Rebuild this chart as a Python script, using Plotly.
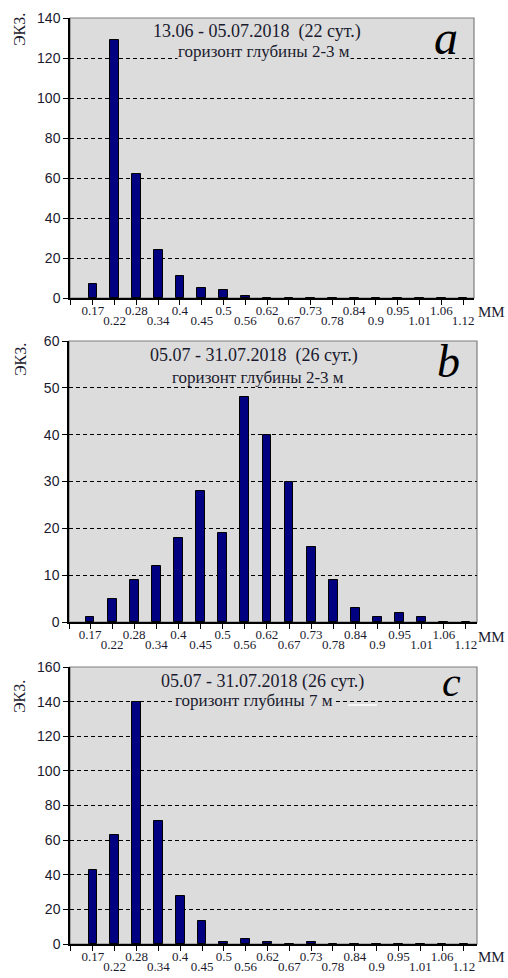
import plotly.graph_objects as go

# ---- data ----
sizes = ["0.17", "0.22", "0.28", "0.34", "0.4", "0.45", "0.5", "0.56", "0.62",
         "0.67", "0.73", "0.78", "0.84", "0.9", "0.95", "1.01", "1.06", "1.12"]
counts_a = [7, 129, 62, 24, 11, 5, 4, 1, 0, 0, 0, 0, 0, 0, 0, 0, 0, 0]
counts_b = [1, 5, 9, 12, 18, 28, 19, 48, 40, 30, 16, 9, 3, 1, 2, 1, 0, 0]
counts_c = [43, 63, 140, 71, 28, 13, 1, 3, 1, 0, 1, 0, 0, 0, 0, 0, 0, 0]
titles = ["13.06 - 05.07.2018  (22 сут.)",
          "05.07 - 31.07.2018  (26 сут.)",
          "05.07 - 31.07.2018 (26 сут.)"]
subtitles = ["горизонт глубины 2-3 м", "горизонт глубины 2-3 м", "горизонт глубины 7 м"]
letters = ["a", "b", "c"]
y_max = [140, 60, 160]
y_step = [20, 10, 20]
y_title = "ЭКЗ."
x_unit = "ММ"

W, H = 508, 978
SERIF = "Liberation Serif"
SANS = "Liberation Sans"
TXT = "#1a1a2e"

def px(x):
    return x / W

def py(y):
    return 1 - y / H

panels = [
    dict(x0=70, x1=474, yt=18, yb=298, xr=[-1.05, 17.5],
         title=(257, 32), sub=(264, 52), letter=(446, 38), ytl=(19, 30), unit=(507, 312),
         subbg="#DCDCDC", lsize=48),
    dict(x0=69, x1=477, yt=341, yb=622, xr=[-0.95, 17.5],
         title=(254, 355), sub=(258, 377), letter=(448, 362), ytl=(20, 360), unit=(507, 637),
         subbg="rgba(0,0,0,0)", lsize=46),
    dict(x0=70, x1=477, yt=667, yb=944, xr=[-1.05, 17.6],
         title=(262, 681), sub=(254, 700), letter=(451, 682), ytl=(19, 697), unit=(507, 957),
         subbg="#DCDCDC", lsize=42),
]
all_counts = [counts_a, counts_b, counts_c]

fig = go.Figure()
xi = list(range(len(sizes)))
annotations = []
shapes = []

for k, (p, counts) in enumerate(zip(panels, all_counts)):
    n = "" if k == 0 else str(k + 1)
    n2 = str(k + 4)
    fig.add_trace(go.Bar(
        x=xi, y=counts, width=0.4,
        marker=dict(color="#000080", line=dict(color="black", width=1)),
        xaxis="x" + n, yaxis="y" + n, showlegend=False,
    ))
    # main x axis: tick marks at every category, labels on even categories
    tickvals = [p["xr"][0]] + xi
    ticktext = [""] + [s if i % 2 == 0 else "" for i, s in enumerate(sizes)]
    fig.layout["xaxis" + n] = dict(
        domain=[px(p["x0"]), px(p["x1"])], anchor="y" + n, range=p["xr"],
        tickmode="array", tickvals=tickvals, ticktext=ticktext, tickangle=0,
        ticks="outside", ticklen=5, tickcolor="black", tickwidth=1, ticklabelstandoff=-5,
        tickfont=dict(family=SERIF, size=13, color=TXT),
        showline=True, linecolor="black", linewidth=1.5,
        showgrid=False, zeroline=False, fixedrange=True, automargin=False,
    )
    # overlay x axis: labels of odd categories on a second row
    odd_vals = [i for i in xi if i % 2 == 1]
    odd_text = [sizes[i] for i in odd_vals]
    fig.layout["xaxis" + n2] = dict(
        overlaying="x" + n, anchor="y" + n, side="bottom", range=p["xr"],
        tickmode="array", tickvals=odd_vals, ticktext=odd_text, tickangle=0,
        ticks="", ticklabelstandoff=13,
        tickfont=dict(family=SERIF, size=13, color=TXT),
        showline=False, showgrid=False, zeroline=False, fixedrange=True, automargin=False,
    )
    fig.add_trace(go.Scatter(x=[p["xr"][0]], y=[0], xaxis="x" + n2, yaxis="y" + n,
                             mode="markers", marker=dict(opacity=0), showlegend=False,
                             hoverinfo="skip"))
    fig.layout["yaxis" + n] = dict(
        domain=[py(p["yb"]), py(p["yt"])], anchor="x" + n, range=[0, y_max[k]],
        tickmode="linear", tick0=0, dtick=y_step[k],
        ticks="outside", ticklen=5, tickcolor="black", tickwidth=1,
        tickfont=dict(family=SANS, size=14, color=TXT),
        showline=True, linecolor="black", linewidth=1.5,
        showgrid=True, gridcolor="black", gridwidth=1, griddash="4px,3px",
        zeroline=False, fixedrange=True, automargin=False,
    )
    # plot area background + frame
    shapes.append(dict(type="rect", xref="x" + n + " domain", yref="y" + n + " domain",
                       x0=0, x1=1, y0=0, y1=1, fillcolor="#DCDCDC",
                       line=dict(color="#7f7f7f", width=1.2), layer="below"))
    annotations += [
        dict(text=titles[k], x=px(p["title"][0]), y=py(p["title"][1]), xref="paper", yref="paper",
             showarrow=False, xanchor="center", yanchor="middle",
             font=dict(family=SERIF, size=18, color=TXT)),
        dict(text=subtitles[k], x=px(p["sub"][0]), y=py(p["sub"][1]), xref="paper", yref="paper",
             showarrow=False, xanchor="center", yanchor="middle", bgcolor=p["subbg"],
             borderpad=0, font=dict(family=SERIF, size=17, color=TXT)),
        dict(text="<i>" + letters[k] + "</i>", x=px(p["letter"][0]), y=py(p["letter"][1]),
             xref="paper", yref="paper", showarrow=False, xanchor="center", yanchor="middle",
             font=dict(family=SERIF, size=p["lsize"], color="black")),
        dict(text=y_title, x=px(p["ytl"][0]), y=py(p["ytl"][1]), xref="paper", yref="paper",
             showarrow=False, xanchor="center", yanchor="middle", textangle=-90,
             font=dict(family=SERIF, size=16, color=TXT)),
        dict(text=x_unit, x=px(p["unit"][0]), y=py(p["unit"][1]), xref="paper", yref="paper",
             showarrow=False, xanchor="right", yanchor="middle",
             font=dict(family=SERIF, size=15, color=TXT)),
    ]

# small white stroke after the subtitle of panel c
shapes.append(dict(type="line", xref="paper", yref="paper",
                   x0=px(348), x1=px(377), y0=py(705), y1=py(705),
                   line=dict(color="white", width=1.5)))

fig.update_layout(
    width=W, height=H, margin=dict(l=0, r=0, t=0, b=0, pad=0, autoexpand=False),
    paper_bgcolor="white", plot_bgcolor="rgba(0,0,0,0)",
    bargap=0, annotations=annotations, shapes=shapes,
)

fig.write_html("out.html", config={"displayModeBar": False},
               post_script="document.body.style.margin='0';document.body.style.overflow='hidden';")
